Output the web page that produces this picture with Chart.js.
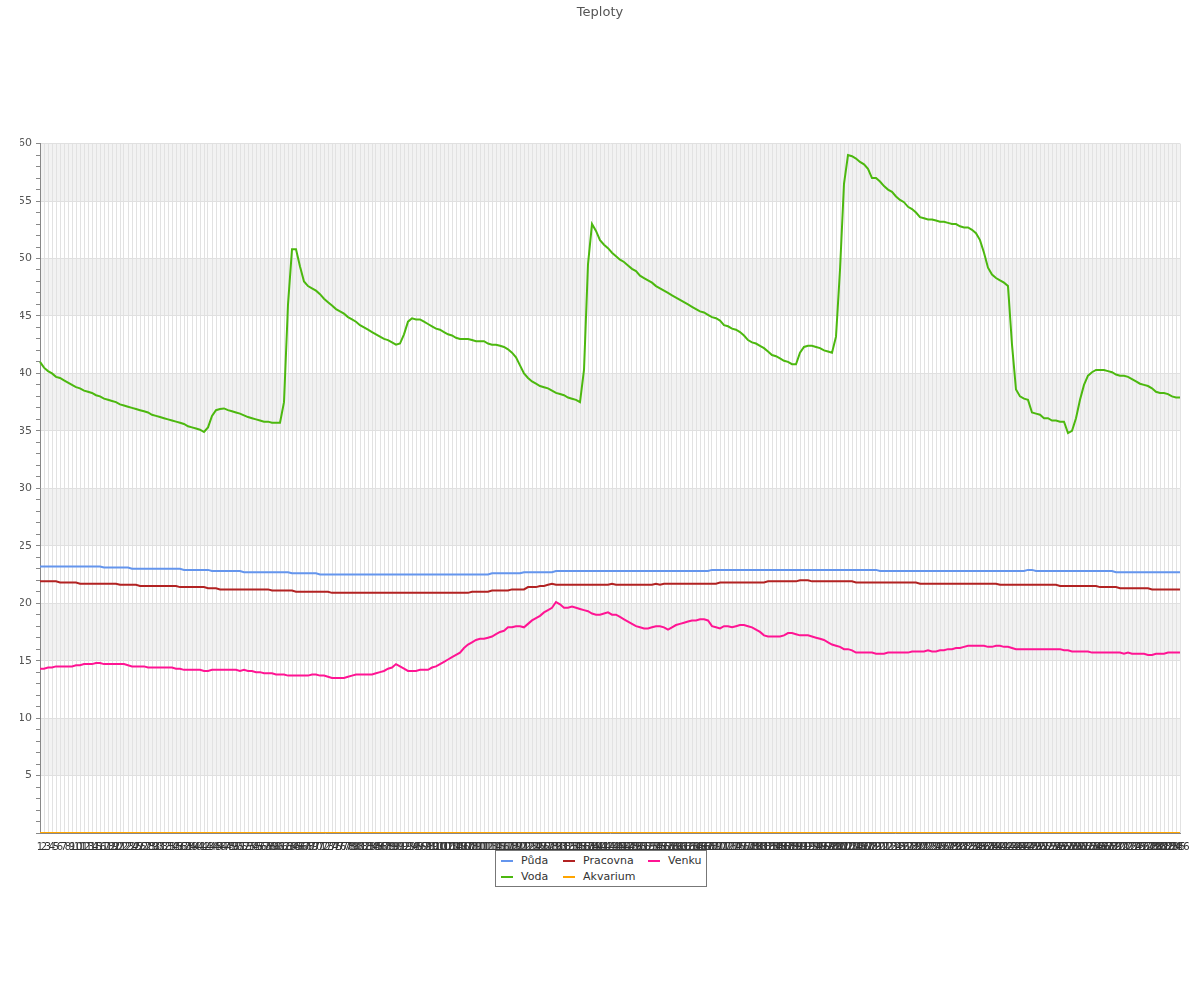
<!DOCTYPE html>
<html>
<head>
<meta charset="utf-8">
<script src="https://cdn.jsdelivr.net/npm/chart.js@4"></script>
<style>
  body { margin: 0; background: #fff; font-family: "DejaVu Sans", sans-serif; }
  #wrap { position: relative; width: 1200px; height: 1000px; }
  #legend { position: absolute; left: 495px; top: 850px; width: 210px; height: 35px;
            border: 1px solid #777; background: #fff; font-size: 11px; color: #333; }
  #legend .item { position: absolute; display: flex; align-items: center; white-space: nowrap; }
  #legend .swatch { width: 12px; height: 2px; margin-right: 8px; }
</style>
</head>
<body>
<div id="wrap">
  <canvas id="chart" width="1200" height="1000"></canvas>
  <div id="legend"></div>
</div>
<script>
const seriesNames = ['Půda', 'Voda', 'Pracovna', 'Akvarium', 'Venku'];
const seriesColors = ['#6495ed', '#4cb80f', '#b22222', '#ffa500', '#ff1493'];

const puda = [
  23.2,23.2,23.2,23.2,23.2,23.2,23.2,23.2,23.2,23.2,
  23.2,23.2,23.2,23.2,23.2,23.2,23.1,23.1,23.1,23.1,
  23.1,23.1,23.1,23.0,23.0,23.0,23.0,23.0,23.0,23.0,
  23.0,23.0,23.0,23.0,23.0,23.0,22.9,22.9,22.9,22.9,
  22.9,22.9,22.9,22.8,22.8,22.8,22.8,22.8,22.8,22.8,
  22.8,22.7,22.7,22.7,22.7,22.7,22.7,22.7,22.7,22.7,
  22.7,22.7,22.7,22.6,22.6,22.6,22.6,22.6,22.6,22.6,
  22.5,22.5,22.5,22.5,22.5,22.5,22.5,22.5,22.5,22.5,
  22.5,22.5,22.5,22.5,22.5,22.5,22.5,22.5,22.5,22.5,
  22.5,22.5,22.5,22.5,22.5,22.5,22.5,22.5,22.5,22.5,
  22.5,22.5,22.5,22.5,22.5,22.5,22.5,22.5,22.5,22.5,
  22.5,22.5,22.5,22.6,22.6,22.6,22.6,22.6,22.6,22.6,
  22.6,22.7,22.7,22.7,22.7,22.7,22.7,22.7,22.7,22.8,
  22.8,22.8,22.8,22.8,22.8,22.8,22.8,22.8,22.8,22.8,
  22.8,22.8,22.8,22.8,22.8,22.8,22.8,22.8,22.8,22.8,
  22.8,22.8,22.8,22.8,22.8,22.8,22.8,22.8,22.8,22.8,
  22.8,22.8,22.8,22.8,22.8,22.8,22.8,22.8,22.9,22.9,
  22.9,22.9,22.9,22.9,22.9,22.9,22.9,22.9,22.9,22.9,
  22.9,22.9,22.9,22.9,22.9,22.9,22.9,22.9,22.9,22.9,
  22.9,22.9,22.9,22.9,22.9,22.9,22.9,22.9,22.9,22.9,
  22.9,22.9,22.9,22.9,22.9,22.9,22.9,22.9,22.9,22.9,
  22.8,22.8,22.8,22.8,22.8,22.8,22.8,22.8,22.8,22.8,
  22.8,22.8,22.8,22.8,22.8,22.8,22.8,22.8,22.8,22.8,
  22.8,22.8,22.8,22.8,22.8,22.8,22.8,22.8,22.8,22.8,
  22.8,22.8,22.8,22.8,22.8,22.8,22.8,22.9,22.9,22.8,
  22.8,22.8,22.8,22.8,22.8,22.8,22.8,22.8,22.8,22.8,
  22.8,22.8,22.8,22.8,22.8,22.8,22.8,22.8,22.8,22.7,
  22.7,22.7,22.7,22.7,22.7,22.7,22.7,22.7,22.7,22.7,
  22.7,22.7,22.7,22.7,22.7,22.7
];

const voda = [
  41.0,40.5,40.2,40.0,39.7,39.6,39.4,39.2,39.0,38.8,
  38.7,38.5,38.4,38.3,38.1,38.0,37.8,37.7,37.6,37.5,
  37.3,37.2,37.1,37.0,36.9,36.8,36.7,36.6,36.4,36.3,
  36.2,36.1,36.0,35.9,35.8,35.7,35.6,35.4,35.3,35.2,
  35.1,34.9,35.3,36.3,36.8,36.9,36.95,36.8,36.7,36.6,
  36.5,36.35,36.2,36.1,36.0,35.9,35.8,35.8,35.7,35.7,
  35.7,37.5,46.0,50.8,50.8,49.3,48.0,47.6,47.4,47.2,
  46.9,46.5,46.2,45.9,45.6,45.4,45.2,44.9,44.7,44.5,
  44.2,44.0,43.8,43.6,43.4,43.2,43.0,42.9,42.7,42.5,
  42.6,43.4,44.5,44.8,44.7,44.7,44.5,44.3,44.1,43.9,
  43.8,43.6,43.4,43.3,43.1,43.0,43.0,43.0,42.9,42.8,
  42.8,42.8,42.6,42.5,42.5,42.4,42.3,42.1,41.8,41.4,
  40.7,40.0,39.6,39.3,39.1,38.9,38.8,38.7,38.5,38.3,
  38.2,38.1,37.9,37.8,37.7,37.5,40.3,49.5,53.0,52.4,
  51.6,51.2,50.9,50.5,50.2,49.9,49.7,49.4,49.1,48.9,
  48.5,48.3,48.1,47.9,47.6,47.4,47.2,47.0,46.8,46.6,
  46.4,46.2,46.0,45.8,45.6,45.4,45.3,45.1,44.9,44.8,
  44.6,44.2,44.1,43.9,43.8,43.6,43.3,42.9,42.7,42.6,
  42.4,42.2,41.9,41.6,41.5,41.3,41.1,41.0,40.8,40.8,
  41.8,42.3,42.4,42.4,42.3,42.2,42.0,41.9,41.8,43.2,
  49.0,56.5,59.0,58.9,58.7,58.4,58.2,57.8,57.0,57.0,
  56.7,56.3,56.0,55.8,55.4,55.1,54.9,54.5,54.3,54.0,
  53.6,53.5,53.4,53.4,53.3,53.2,53.2,53.1,53.0,53.0,
  52.8,52.7,52.7,52.5,52.2,51.6,50.5,49.2,48.6,48.3,
  48.1,47.9,47.6,42.5,38.6,38.0,37.8,37.7,36.6,36.5,
  36.4,36.1,36.1,35.9,35.9,35.8,35.8,34.8,35.0,36.1,
  37.7,39.0,39.8,40.1,40.3,40.3,40.3,40.2,40.1,39.9,
  39.8,39.8,39.7,39.5,39.3,39.1,39.0,38.9,38.7,38.4,
  38.3,38.3,38.2,38.0,37.9,37.9
];

const pracovna = [
  21.9,21.9,21.9,21.9,21.9,21.8,21.8,21.8,21.8,21.8,
  21.7,21.7,21.7,21.7,21.7,21.7,21.7,21.7,21.7,21.7,
  21.6,21.6,21.6,21.6,21.6,21.5,21.5,21.5,21.5,21.5,
  21.5,21.5,21.5,21.5,21.5,21.4,21.4,21.4,21.4,21.4,
  21.4,21.4,21.3,21.3,21.3,21.2,21.2,21.2,21.2,21.2,
  21.2,21.2,21.2,21.2,21.2,21.2,21.2,21.2,21.1,21.1,
  21.1,21.1,21.1,21.1,21.0,21.0,21.0,21.0,21.0,21.0,
  21.0,21.0,21.0,20.9,20.9,20.9,20.9,20.9,20.9,20.9,
  20.9,20.9,20.9,20.9,20.9,20.9,20.9,20.9,20.9,20.9,
  20.9,20.9,20.9,20.9,20.9,20.9,20.9,20.9,20.9,20.9,
  20.9,20.9,20.9,20.9,20.9,20.9,20.9,20.9,21.0,21.0,
  21.0,21.0,21.0,21.1,21.1,21.1,21.1,21.1,21.2,21.2,
  21.2,21.2,21.4,21.4,21.4,21.5,21.5,21.6,21.7,21.6,
  21.6,21.6,21.6,21.6,21.6,21.6,21.6,21.6,21.6,21.6,
  21.6,21.6,21.6,21.7,21.6,21.6,21.6,21.6,21.6,21.6,
  21.6,21.6,21.6,21.6,21.7,21.6,21.7,21.7,21.7,21.7,
  21.7,21.7,21.7,21.7,21.7,21.7,21.7,21.7,21.7,21.7,
  21.8,21.8,21.8,21.8,21.8,21.8,21.8,21.8,21.8,21.8,
  21.8,21.8,21.9,21.9,21.9,21.9,21.9,21.9,21.9,21.9,
  22.0,22.0,22.0,21.9,21.9,21.9,21.9,21.9,21.9,21.9,
  21.9,21.9,21.9,21.9,21.8,21.8,21.8,21.8,21.8,21.8,
  21.8,21.8,21.8,21.8,21.8,21.8,21.8,21.8,21.8,21.8,
  21.7,21.7,21.7,21.7,21.7,21.7,21.7,21.7,21.7,21.7,
  21.7,21.7,21.7,21.7,21.7,21.7,21.7,21.7,21.7,21.7,
  21.6,21.6,21.6,21.6,21.6,21.6,21.6,21.6,21.6,21.6,
  21.6,21.6,21.6,21.6,21.6,21.5,21.5,21.5,21.5,21.5,
  21.5,21.5,21.5,21.5,21.5,21.4,21.4,21.4,21.4,21.4,
  21.3,21.3,21.3,21.3,21.3,21.3,21.3,21.3,21.2,21.2,
  21.2,21.2,21.2,21.2,21.2,21.2
];

const akvarium = [
  0,0,0,0,0,0,0,0,0,0, 0,0,0,0,0,0,0,0,0,0, 0,0,0,0,0,0,0,0,0,0, 0,0,0,0,0,0,0,0,0,0,
  0,0,0,0,0,0,0,0,0,0, 0,0,0,0,0,0,0,0,0,0, 0,0,0,0,0,0,0,0,0,0, 0,0,0,0,0,0,0,0,0,0,
  0,0,0,0,0,0,0,0,0,0, 0,0,0,0,0,0,0,0,0,0, 0,0,0,0,0,0,0,0,0,0, 0,0,0,0,0,0,0,0,0,0,
  0,0,0,0,0,0,0,0,0,0, 0,0,0,0,0,0,0,0,0,0, 0,0,0,0,0,0,0,0,0,0, 0,0,0,0,0,0,0,0,0,0,
  0,0,0,0,0,0,0,0,0,0, 0,0,0,0,0,0,0,0,0,0, 0,0,0,0,0,0,0,0,0,0, 0,0,0,0,0,0,0,0,0,0,
  0,0,0,0,0,0,0,0,0,0, 0,0,0,0,0,0,0,0,0,0, 0,0,0,0,0,0,0,0,0,0, 0,0,0,0,0,0,0,0,0,0,
  0,0,0,0,0,0,0,0,0,0, 0,0,0,0,0,0,0,0,0,0, 0,0,0,0,0,0,0,0,0,0, 0,0,0,0,0,0,0,0,0,0,
  0,0,0,0,0,0
];

const venku = [
  14.3,14.3,14.4,14.4,14.5,14.5,14.5,14.5,14.5,14.6,
  14.6,14.7,14.7,14.7,14.8,14.8,14.7,14.7,14.7,14.7,
  14.7,14.7,14.6,14.5,14.5,14.5,14.5,14.4,14.4,14.4,
  14.4,14.4,14.4,14.4,14.3,14.3,14.2,14.2,14.2,14.2,
  14.2,14.1,14.1,14.2,14.2,14.2,14.2,14.2,14.2,14.2,
  14.1,14.2,14.1,14.1,14.0,14.0,13.9,13.9,13.9,13.8,
  13.8,13.8,13.7,13.7,13.7,13.7,13.7,13.7,13.8,13.8,
  13.7,13.7,13.6,13.5,13.5,13.5,13.5,13.6,13.7,13.8,
  13.8,13.8,13.8,13.8,13.9,14.0,14.1,14.3,14.4,14.7,
  14.5,14.3,14.1,14.1,14.1,14.2,14.2,14.2,14.4,14.5,
  14.7,14.9,15.1,15.3,15.5,15.7,16.1,16.4,16.6,16.8,
  16.9,16.9,17.0,17.1,17.3,17.5,17.6,17.9,17.9,18.0,
  18.0,17.9,18.2,18.5,18.7,18.9,19.2,19.4,19.6,20.1,
  19.9,19.6,19.6,19.7,19.6,19.5,19.4,19.3,19.1,19.0,
  19.0,19.1,19.2,19.0,19.0,18.8,18.6,18.4,18.2,18.0,
  17.9,17.8,17.8,17.9,18.0,18.0,17.9,17.7,17.9,18.1,
  18.2,18.3,18.4,18.5,18.5,18.6,18.6,18.5,18.0,17.9,
  17.8,18.0,18.0,17.9,18.0,18.1,18.1,18.0,17.9,17.7,
  17.5,17.2,17.1,17.1,17.1,17.1,17.2,17.4,17.4,17.3,
  17.2,17.2,17.2,17.1,17.0,16.9,16.8,16.6,16.4,16.3,
  16.2,16.0,16.0,15.9,15.7,15.7,15.7,15.7,15.7,15.6,
  15.6,15.6,15.7,15.7,15.7,15.7,15.7,15.7,15.8,15.8,
  15.8,15.8,15.9,15.8,15.8,15.9,15.9,16.0,16.0,16.1,
  16.1,16.2,16.3,16.3,16.3,16.3,16.3,16.2,16.2,16.3,
  16.3,16.2,16.2,16.1,16.0,16.0,16.0,16.0,16.0,16.0,
  16.0,16.0,16.0,16.0,16.0,16.0,15.9,15.9,15.8,15.8,
  15.8,15.8,15.8,15.7,15.7,15.7,15.7,15.7,15.7,15.7,
  15.7,15.6,15.7,15.6,15.6,15.6,15.6,15.5,15.5,15.6,
  15.6,15.6,15.7,15.7,15.7,15.7
];

// x categories are just the sample numbers 1..286
const labels = Array.from({ length: voda.length }, (_, i) => String(i + 1));

const seriesData = [puda, voda, pracovna, akvarium, venku];

// alternating grey bands between the major y ticks
const bandPlugin = {
  id: 'bands',
  beforeDraw(chart) {
    const { ctx, chartArea, scales } = chart;
    const y = scales.y;
    ctx.save();
    ctx.fillStyle = '#f2f2f2';
    for (let v = 5; v < 60; v += 10) {
      const top = y.getPixelForValue(v + 5);
      const bottom = y.getPixelForValue(v);
      ctx.fillRect(chartArea.left, top, chartArea.right - chartArea.left, bottom - top);
    }
    ctx.restore();
  }
};

new Chart(document.getElementById('chart'), {
  type: 'line',
  data: {
    labels: labels,
    datasets: seriesData.map((d, i) => ({
      label: seriesNames[i],
      data: d,
      borderColor: seriesColors[i],
      backgroundColor: seriesColors[i],
      borderWidth: 2,
      pointRadius: 0,
      tension: 0,
      fill: false
    }))
  },
  options: {
    responsive: false,
    animation: false,
    layout: { padding: { left: 20, right: 20, top: 0, bottom: 0 } },
    plugins: {
      legend: { display: false },
      tooltip: { enabled: false },
      title: {
        display: true,
        text: 'Teploty',
        color: '#555',
        font: { family: 'DejaVu Sans', size: 13, weight: 'normal' },
        padding: { top: 5, bottom: 123 }
      }
    },
    scales: {
      x: {
        offset: false,
        grid: { color: '#e2e2e2', lineWidth: 1, drawTicks: false },
        border: { color: '#888' },
        ticks: {
          autoSkip: false, maxRotation: 0, minRotation: 0, padding: 8,
          color: '#333', font: { family: 'DejaVu Sans', size: 10 }
        },
        afterFit(s) { s.height = 167; }
      },
      y: {
        min: 0, max: 60,
        grid: {
          color: ctx => (ctx.tick && ctx.tick.value % 5 === 0) ? '#e0e0e0' : 'rgba(0,0,0,0)',
          tickColor: '#888',
          tickLength: 4
        },
        border: { color: '#888' },
        ticks: {
          stepSize: 1, autoSkip: false, padding: 4,
          color: '#555', font: { family: 'DejaVu Sans', size: 11 },
          callback: v => (v % 5 === 0 && v !== 0) ? String(v) : ''
        },
        afterFit(s) { s.width = 20; }
      }
    }
  },
  plugins: [bandPlugin]
});

// legend box below the chart, laid out in three columns like the original
const legendEl = document.getElementById('legend');
const colLeft = [5, 67, 152];
const rowTop = [3, 19];
seriesNames.forEach((name, i) => {
  const item = document.createElement('div');
  item.className = 'item';
  item.style.left = colLeft[Math.floor(i / 2)] + 'px';
  item.style.top = rowTop[i % 2] + 'px';
  item.innerHTML = '<span class="swatch" style="background:' + seriesColors[i] + '"></span>' + name;
  legendEl.appendChild(item);
});
</script>
</body>
</html>
